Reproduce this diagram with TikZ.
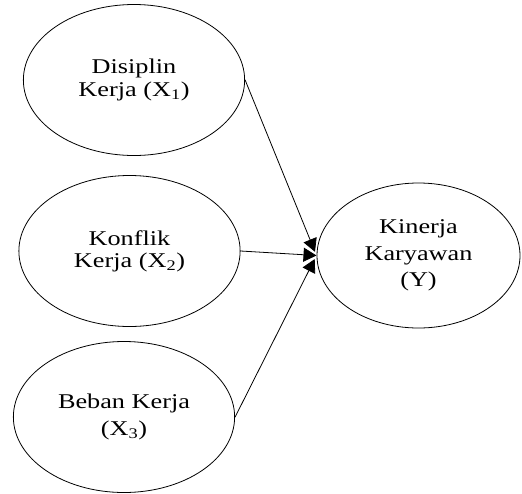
\documentclass[tikz,border=0pt]{standalone}
\usepackage{fontspec}
\setmainfont{Liberation Serif}
\usepackage{graphicx}
\usetikzlibrary{shapes.geometric,arrows.meta}
\begin{document}
\begin{tikzpicture}[x=1pt,y=-1pt,
  oval/.style={draw, ellipse, line width=0.8pt, inner sep=0pt, transform shape,
    minimum width=177pt, minimum height=151pt, align=center},
  arr/.style={line width=0.8pt, -{Triangle[length=13pt,width=14pt]}}]
\useasboundingbox (0,0) rectangle (522,493);
\begin{scope}[xscale=1.25]
\node[oval, font=\fontsize{21}{23}\selectfont] (e1) at (107.2,80) {Disiplin\\Kerja (X\textsubscript{1})};
\node[oval, font=\fontsize{21}{22}\selectfont] (e2) at (103.6,251) {Konflik\\Kerja (X\textsubscript{2})};
\node[oval, font=\fontsize{21}{27}\selectfont] (e3) at (99.2,417) {Beban Kerja\\(X\textsubscript{3})};
\node[oval, font=\fontsize{21}{26.5}\selectfont, minimum width=162.4pt, minimum height=145pt] (e4) at (334.8,255.5) {Kinerja\\Karyawan\\(Y)};
\end{scope}
\draw[arr, shorten >=4pt] (e1.east) -- (e4.west);
\draw[arr] (e2.east) -- (e4.west);
\draw[arr, shorten >=4pt] (e3.east) -- (e4.west);
\end{tikzpicture}
\end{document}
